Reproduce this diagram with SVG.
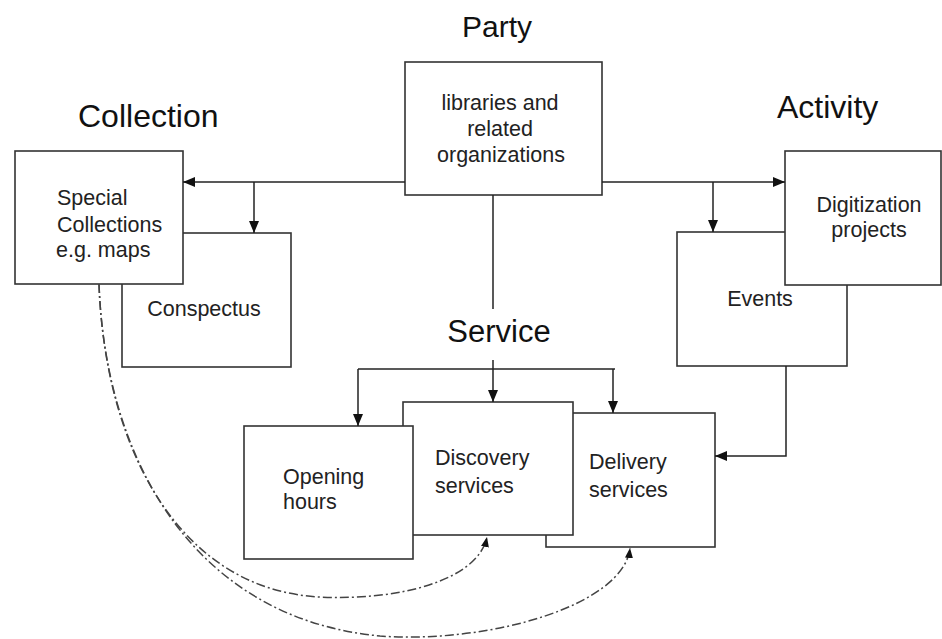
<svg xmlns="http://www.w3.org/2000/svg" width="942" height="639" viewBox="0 0 942 639">
<style>
.box{fill:#fff;stroke:#333;stroke-width:1.6}
.t{font-family:"Liberation Sans",Arial,sans-serif;font-size:21.5px;fill:#222}
.title{font-family:"Liberation Sans",Arial,sans-serif;font-size:32px;fill:#111}
.c{text-anchor:middle}
.ln{fill:none;stroke:#222;stroke-width:1.5}
.dd{fill:none;stroke:#444;stroke-width:1.5;stroke-dasharray:9 3 2 3}
</style>
<defs>
<marker id="ah" markerUnits="userSpaceOnUse" markerWidth="12" markerHeight="10" refX="12" refY="5" orient="auto">
<path d="M0,0 L12,5 L0,10 z" fill="#111"/>
</marker>
<marker id="ahs" markerUnits="userSpaceOnUse" markerWidth="10" markerHeight="8" refX="10" refY="4" orient="auto">
<path d="M0,0 L10,4 L0,8 z" fill="#111"/>
</marker>
</defs>
<rect width="942" height="639" fill="#fff"/>
<text class="title c" x="497" y="37" style="font-size:30px">Party</text>
<text class="title" x="78" y="127">Collection</text>
<text class="title" x="777" y="118">Activity</text>
<text class="title c" x="499" y="342" style="font-size:31px">Service</text>
<g id="conspectus"><rect class="box" x="122" y="233" width="169" height="134"/><text class="t c" x="204" y="316">Conspectus</text></g>
<g id="special"><rect class="box" x="15" y="151" width="168" height="133"/><text class="t" x="57" y="205">Special</text><text class="t" x="57" y="231.5">Collections</text><text class="t" x="56" y="257">e.g. maps</text></g>
<g id="party"><rect class="box" x="405" y="62" width="197" height="133"/><text class="t c" x="500" y="110">libraries and</text><text class="t c" x="500" y="136">related</text><text class="t c" x="501" y="162">organizations</text></g>
<g id="events"><rect class="box" x="677" y="232" width="170" height="134"/><text class="t c" x="760" y="306">Events</text></g>
<g id="digitization"><rect class="box" x="785" y="151" width="156" height="134"/><text class="t c" x="869" y="212">Digitization</text><text class="t c" x="869" y="237">projects</text></g>
<g id="delivery"><rect class="box" x="546" y="413" width="169" height="134"/><text class="t" x="589" y="469">Delivery</text><text class="t" x="589" y="497">services</text></g>
<g id="discovery"><rect class="box" x="403" y="402" width="170" height="133"/><text class="t" x="435" y="465">Discovery</text><text class="t" x="435" y="493">services</text></g>
<g id="opening"><rect class="box" x="244" y="426" width="169" height="133"/><text class="t" x="283" y="484">Opening</text><text class="t" x="283" y="509">hours</text></g>
<g id="connectors">
<path class="ln" d="M405,182 H183" marker-end="url(#ah)"/>
<path class="ln" d="M254,182 V233" marker-end="url(#ah)"/>
<path class="ln" d="M602,182 H785" marker-end="url(#ah)"/>
<path class="ln" d="M713,182 V232" marker-end="url(#ah)"/>
<path class="ln" d="M493,195 V309"/>
<path class="ln" d="M493,360 V402" marker-end="url(#ah)"/>
<path class="ln" d="M358,369 H615"/>
<path class="ln" d="M358,369 V426" marker-end="url(#ah)"/>
<path class="ln" d="M613,369 V413" marker-end="url(#ah)"/>
<path class="ln" d="M786,366 V456 H715" marker-end="url(#ah)"/>
<path class="dd" d="M99,284 C105,450 180,590 320,597 C400,601 478,580 487,537" marker-end="url(#ahs)"/>
<path class="dd" d="M99,284 C105,455 190,618 380,636 C490,644 624,605 630,548" marker-end="url(#ahs)"/>
</g>
</svg>
